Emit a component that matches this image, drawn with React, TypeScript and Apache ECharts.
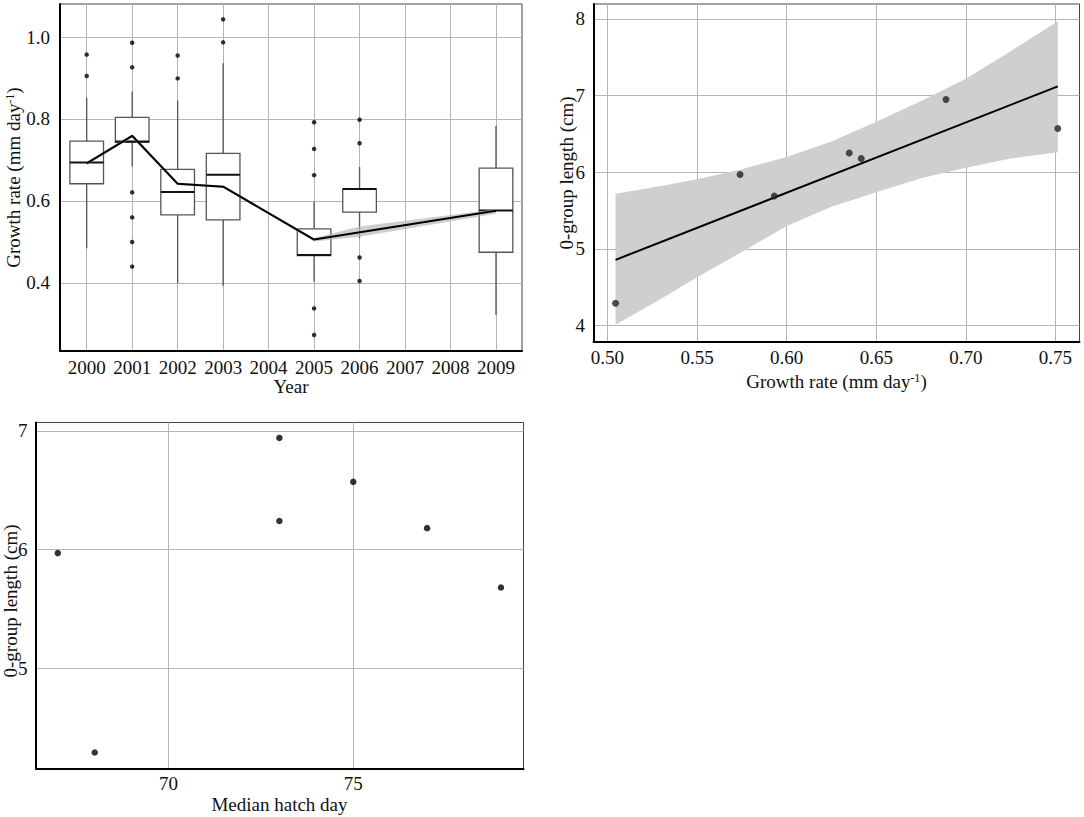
import React, { useEffect, useRef } from "react";
import * as echarts from "echarts";

// ---------- Panel A: growth rate by year ----------
const YEAR_TICKS = [2000, 2001, 2002, 2003, 2004, 2005, 2006, 2007, 2008, 2009];
const GROWTH_TICKS = [0.4, 0.6, 0.8, 1.0];
const BOX_YEARS = [2000, 2001, 2002, 2003, 2005, 2006, 2009];
const BOX_MIN = [0.485, 0.684, 0.4, 0.393, 0.403, 0.509, 0.322];
const BOX_Q1 = [0.642, 0.743, 0.566, 0.554, 0.467, 0.573, 0.475];
const BOX_MEDIAN = [0.694, 0.745, 0.622, 0.664, 0.468, 0.629, 0.577];
const BOX_Q3 = [0.746, 0.804, 0.677, 0.716, 0.532, 0.629, 0.68];
const BOX_MAX = [0.852, 0.867, 0.845, 0.936, 0.598, 0.683, 0.783];
const OUTLIER_YEARS = [2000, 2000, 2001, 2001, 2001, 2001, 2001, 2001, 2002, 2002, 2003, 2003, 2005, 2005, 2005, 2005, 2005, 2006, 2006, 2006, 2006];
const OUTLIER_VALUES = [0.957, 0.905, 0.986, 0.926, 0.621, 0.56, 0.5, 0.44, 0.955, 0.899, 1.043, 0.987, 0.792, 0.727, 0.663, 0.338, 0.273, 0.798, 0.741, 0.462, 0.405];
const MEAN_YEARS = [2000, 2001, 2002, 2003, 2005, 2009];
const MEAN_VALUES = [0.692, 0.759, 0.642, 0.635, 0.506, 0.576];
const MEAN_BAND_YEARS = [2000, 2001, 2002, 2003, 2005, 2006, 2009];
const MEAN_BAND_UPPER = [0.696, 0.763, 0.645, 0.638, 0.51, 0.538, 0.58];
const MEAN_BAND_LOWER = [0.688, 0.754, 0.639, 0.632, 0.501, 0.513, 0.569];

// ---------- Panel B: length vs growth rate ----------
const RATE_TICKS = [0.5, 0.55, 0.6, 0.65, 0.7, 0.75];
const LENGTH_TICKS_B = [4, 5, 6, 7, 8];
const GROWTH_RATE = [0.5045, 0.574, 0.5931, 0.6349, 0.6416, 0.6889, 0.7513];
const GROUP_LENGTH = [4.29, 5.97, 5.69, 6.25, 6.18, 6.95, 6.57];
const FIT_X = [0.5045, 0.7513];
const FIT_Y = [4.857, 7.12];
const CI_X = [0.5045, 0.53, 0.55, 0.575, 0.6, 0.625, 0.65, 0.675, 0.7, 0.725, 0.7513];
const CI_UPPER = [5.72, 5.82, 5.91, 6.04, 6.2, 6.4, 6.66, 6.93, 7.22, 7.58, 7.97];
const CI_LOWER = [4.01, 4.35, 4.63, 4.96, 5.3, 5.55, 5.74, 5.92, 6.06, 6.18, 6.26];

// ---------- Panel C: length vs median hatch day ----------
const HATCH_TICKS = [70, 75];
const LENGTH_TICKS_C = [5, 6, 7];
const HATCH_DAY = [67, 68, 73, 73, 75, 77, 79];
const HATCH_LENGTH = [5.97, 4.29, 6.94, 6.24, 6.57, 6.18, 5.68];

const FONT = "Liberation Serif";
const FS = 19;
const BOX_HALF = 0.37;

function valueAxis(gridIndex: number, min: number, max: number, ticks: number[], fmt: (v: number) => string, margin: number) {
  return {
    type: "value",
    gridIndex,
    min,
    max,
    axisLine: { show: true, onZero: false, lineStyle: { color: "#000", width: 2 } },
    axisTick: { show: false, customValues: ticks },
    axisLabel: {
      show: true,
      customValues: ticks,
      formatter: (v: number) => "{t|" + fmt(v) + "}",
      margin,
      color: "#111",
      fontFamily: FONT,
      fontSize: FS,
      rich: { t: { fontFamily: FONT, fontSize: FS, lineHeight: FS, color: "#111" } },
    },
    splitLine: { show: true, lineStyle: { color: "#b5b5b5", width: 1 } },
  };
}

function bandSeries(xAxisIndex: number, xs: number[], up: number[], lo: number[], fill: string) {
  return {
    type: "custom",
    xAxisIndex,
    yAxisIndex: xAxisIndex,
    data: [[xs[0], up[0]]],
    encode: { x: 0, y: 1 },
    z: 3,
    silent: true,
    renderItem: (_p: any, api: any) => {
      const pts: number[][] = [];
      for (let i = 0; i < xs.length; i++) pts.push(api.coord([xs[i], up[i]]));
      for (let i = xs.length - 1; i >= 0; i--) pts.push(api.coord([xs[i], lo[i]]));
      return { type: "polygon", shape: { points: pts }, style: { fill, stroke: "none" } };
    },
  };
}

function titleText(text: string, x: number, y: number, vertical: boolean, rich = false) {
  const style: any = {
    text,
    x: 0,
    y: 0,
    align: "center",
    verticalAlign: "middle",
    fill: "#111",
    fontFamily: FONT,
    fontSize: FS,
  };
  if (rich) {
    style.rich = {
      n: { fontFamily: FONT, fontSize: FS, lineHeight: FS, fill: "#111" },
      s: { fontFamily: FONT, fontSize: 12, lineHeight: 12, verticalAlign: "top", fill: "#111" },
    };
  }
  return { type: "text", x, y, rotation: vertical ? Math.PI / 2 : 0, style, silent: true };
}

export default function App() {
  const ref = useRef<HTMLDivElement>(null);
  useEffect(() => {
    if (!ref.current) return;
    const chart = echarts.init(ref.current, undefined, { renderer: "svg" });
    const boxData = BOX_YEARS.map((y, i) => [y, BOX_MIN[i], BOX_Q1[i], BOX_MEDIAN[i], BOX_Q3[i], BOX_MAX[i]]);
    const option: any = {
      animation: false,
      backgroundColor: "#fff",
      textStyle: { fontFamily: FONT, fontSize: FS, color: "#111" },
      grid: [
        { left: 60, top: 4, width: 462, height: 347, show: true, borderColor: "#444", borderWidth: 1, outerBoundsMode: "none" },
        { left: 593.5, top: 4, width: 486, height: 338, show: true, borderColor: "#444", borderWidth: 1, outerBoundsMode: "none" },
        { left: 36, top: 422.5, width: 487.5, height: 346, show: true, borderColor: "#444", borderWidth: 1, outerBoundsMode: "none" },
      ],
      xAxis: [
        valueAxis(0, 1999.413, 2009.572, YEAR_TICKS, (v) => String(v), 7),
        valueAxis(1, 0.4922, 0.7634, RATE_TICKS, (v) => v.toFixed(2), 6),
        valueAxis(2, 66.41, 79.61, HATCH_TICKS, (v) => String(v), 5),
      ],
      yAxis: [
        valueAxis(0, 0.2341, 1.0805, GROWTH_TICKS, (v) => v.toFixed(1), 10),
        valueAxis(1, 3.785, 8.195, LENGTH_TICKS_B, (v) => String(v), 8.5),
        valueAxis(2, 4.155, 7.07, LENGTH_TICKS_C, (v) => String(v), 8.5),
      ],
      series: [
        {
          type: "custom",
          xAxisIndex: 0,
          yAxisIndex: 0,
          data: boxData,
          encode: { x: 0, y: [1, 2, 3, 4, 5] },
          z: 2,
          silent: true,
          renderItem: (_p: any, api: any) => {
            const x = api.value(0);
            const lo = api.coord([x, api.value(1)]);
            const q1 = api.coord([x, api.value(2)]);
            const md = api.coord([x, api.value(3)]);
            const q3 = api.coord([x, api.value(4)]);
            const hi = api.coord([x, api.value(5)]);
            const xl = api.coord([x - BOX_HALF, 0])[0];
            const xr = api.coord([x + BOX_HALF, 0])[0];
            const cx = lo[0];
            const ws = { stroke: "#555", lineWidth: 1.3 };
            return {
              type: "group",
              children: [
                { type: "line", shape: { x1: cx, y1: hi[1], x2: cx, y2: q3[1] }, style: ws },
                { type: "line", shape: { x1: cx, y1: q1[1], x2: cx, y2: lo[1] }, style: ws },
                { type: "rect", shape: { x: xl, y: q3[1], width: xr - xl, height: q1[1] - q3[1] }, style: { fill: "#fff", stroke: "#555", lineWidth: 1.3 } },
                { type: "line", shape: { x1: xl, y1: md[1], x2: xr, y2: md[1] }, style: { stroke: "#111", lineWidth: 2 } },
              ],
            };
          },
        },
        bandSeries(0, MEAN_BAND_YEARS, MEAN_BAND_UPPER, MEAN_BAND_LOWER, "rgba(185,185,185,0.7)"),
        {
          type: "line",
          xAxisIndex: 0,
          yAxisIndex: 0,
          data: MEAN_YEARS.map((y, i) => [y, MEAN_VALUES[i]]),
          symbol: "none",
          lineStyle: { color: "#000", width: 2 },
          z: 4,
          silent: true,
        },
        {
          type: "scatter",
          xAxisIndex: 0,
          yAxisIndex: 0,
          data: OUTLIER_YEARS.map((y, i) => [y, OUTLIER_VALUES[i]]),
          symbolSize: 4.5,
          itemStyle: { color: "#000" },
          z: 5,
          silent: true,
        },
        bandSeries(1, CI_X, CI_UPPER, CI_LOWER, "#cfcfcf"),
        {
          type: "line",
          xAxisIndex: 1,
          yAxisIndex: 1,
          data: FIT_X.map((x, i) => [x, FIT_Y[i]]),
          symbol: "none",
          lineStyle: { color: "#000", width: 2 },
          z: 4,
          silent: true,
        },
        {
          type: "scatter",
          xAxisIndex: 1,
          yAxisIndex: 1,
          data: GROWTH_RATE.map((x, i) => [x, GROUP_LENGTH[i]]),
          symbolSize: 7,
          itemStyle: { color: "#222" },
          z: 5,
          silent: true,
        },
        {
          type: "scatter",
          xAxisIndex: 2,
          yAxisIndex: 2,
          data: HATCH_DAY.map((x, i) => [x, HATCH_LENGTH[i]]),
          symbolSize: 6.5,
          itemStyle: { color: "#000" },
          z: 5,
          silent: true,
        },
      ],
      graphic: [
        titleText("Year", 291, 386, false),
        titleText("{n|Growth rate (mm day}{s|-1}{n|)}", 13.5, 177.5, true, true),
        titleText("{n|Growth rate (mm day}{s|-1}{n|)}", 836.5, 381.5, false, true),
        titleText("0-group length (cm)", 566.5, 173, true),
        titleText("Median hatch day", 279.5, 804, false),
        titleText("0-group length (cm)", 10.5, 601, true),
      ],
    };
    chart.setOption(option);
    return () => chart.dispose();
  }, []);
  return <div ref={ref} style={{ position: "absolute", left: 0, top: 0, width: 1084, height: 817 }} />;
}
